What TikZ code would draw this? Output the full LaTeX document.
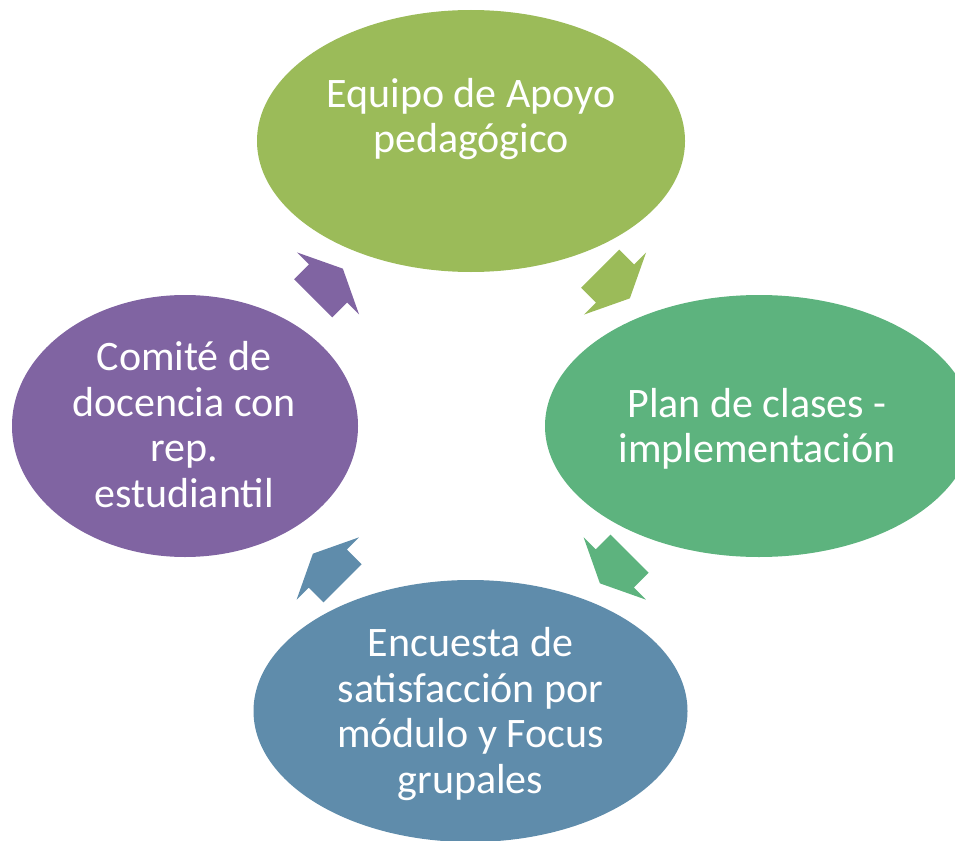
\documentclass[tikz,border=0pt]{standalone}
\usepackage{fontspec}
\setmainfont{Carlito}
\usetikzlibrary{calc, shapes.geometric}
\definecolor{verdeoliva}{HTML}{9BBB59}
\definecolor{verdemar}{HTML}{5DB37E}
\definecolor{azulgris}{HTML}{5F8CAB}
\definecolor{morado}{HTML}{8064A2}

\tikzset{
	ciclo/.style={ellipse, inner sep=0pt, minimum height=262},
	rotulo/.style={text=white, align=center, font=\fontsize{42}{45.5}\selectfont},
	pics/flecha/.style={code={
		\fill[#1] (-21,-27) -- (0,-27) -- (0,-44) -- (21,0) -- (0,44) -- (0,27) -- (-21,27) -- cycle;
	}}
}

\begin{document}
\begin{tikzpicture}[x=1pt, y=-1pt]
		\clip (0,0) rectangle (955,840);
		\node [ciclo, fill=verdeoliva, minimum width=428] (apoyo) at (471,141) {};
		\node [ciclo, fill=verdemar, minimum width=428] (plan) at (759,426) {};
		\node [ciclo, fill=azulgris, minimum width=434] (encuesta) at (470.5,711) {};
		\node [ciclo, fill=morado, minimum width=346] (comite) at (185,426) {};
		\foreach \desde/\hasta/\giro/\col in {apoyo/plan/-45/verdeoliva, plan/encuesta/-135/verdemar, encuesta/comite/135/azulgris, comite/apoyo/45/morado}{
			\pic [rotate=\giro] at ($(\desde)!0.5!(\hasta)$) {flecha=\col};
		}
		\node [rotulo] (apoyo-t) at (471,119) {Equipo de Apoyo\\pedagógico};
		\node [rotulo] (plan-t) at (757,429) {Plan de clases -\\implementación};
		\node [rotulo] (encuesta-t) at (470.5,714) {Encuesta de\\satisfacción por\\módulo y Focus\\grupales};
		\node [rotulo] (comite-t) at (184,424.5) {Comité de\\docencia con\\rep.\\estudiantil};
	\end{tikzpicture}
\end{document}
